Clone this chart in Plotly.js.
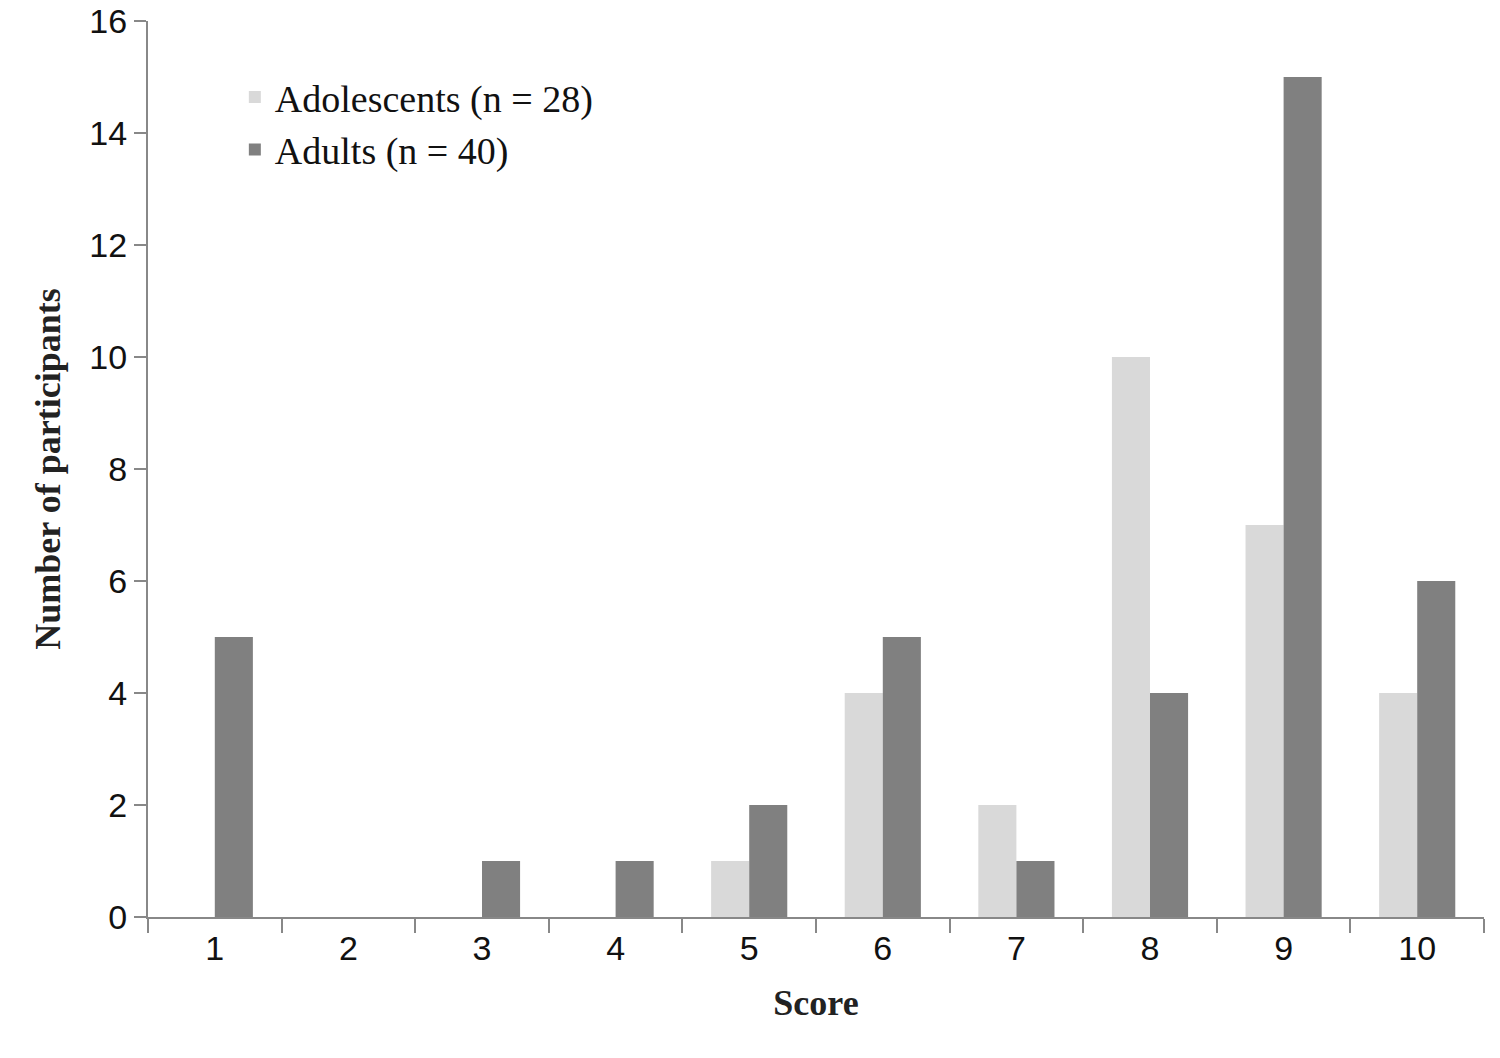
<!DOCTYPE html>
<html>
<head>
<script src="https://cdn.plot.ly/plotly-3.0.1.min.js"></script>
<style>body{margin:0;background:#fff}</style>
</head>
<body>
<div id="chart" style="width:1500px;height:1058px"></div>
<script>
const scores = ['1', '2', '3', '4', '5', '6', '7', '8', '9', '10'];
const adolescents = [0, 0, 0, 0, 1, 4, 2, 10, 7, 4];
const adults = [5, 0, 1, 1, 2, 5, 1, 4, 15, 6];

const traces = [
    {
        type: 'bar', x: scores, y: adolescents, name: 'Adolescents (n = 28)',
        marker: { color: '#d9d9d9' }
    },
    {
        type: 'bar', x: scores, y: adults, name: 'Adults (n = 40)',
        marker: { color: '#808080' }
    }
];

const layout = {
    barmode: 'group',
    bargap: 0.43,
    bargroupgap: 0,
    plot_bgcolor: '#fff',
    paper_bgcolor: '#fff',
    margin: { l: 148, r: 16, t: 21, b: 141 },
    xaxis: {
        type: 'category',
        title: { text: '<b>Score</b>', font: { family: 'Liberation Serif', size: 36, color: '#222' }, standoff: 24 },
        tickfont: { family: 'Liberation Sans', size: 34, color: '#111' },
        showline: true, linecolor: '#888', linewidth: 2,
        ticks: 'outside', tickson: 'boundaries', ticklen: 14, tickcolor: '#888', tickwidth: 2,
        showgrid: false
    },
    yaxis: {
        title: { text: '<b>Number of participants</b>', font: { family: 'Liberation Serif', size: 36, color: '#222' }, standoff: 18 },
        tickfont: { family: 'Liberation Sans', size: 34, color: '#111' },
        range: [0, 16], dtick: 2,
        showline: true, linecolor: '#888', linewidth: 2,
        ticks: 'outside', ticklen: 12, tickcolor: '#888', tickwidth: 2,
        showgrid: false, zeroline: false
    },
    showlegend: true,
    legend: {
        x: 0.065, y: 0.95, xanchor: 'left', yanchor: 'top',
        font: { family: 'Liberation Serif', size: 38, color: '#111' },
        tracegroupgap: 55, bgcolor: 'rgba(0,0,0,0)'
    }
};

Plotly.newPlot('chart', traces, layout, { displayModeBar: false });
</script>
</body>
</html>
